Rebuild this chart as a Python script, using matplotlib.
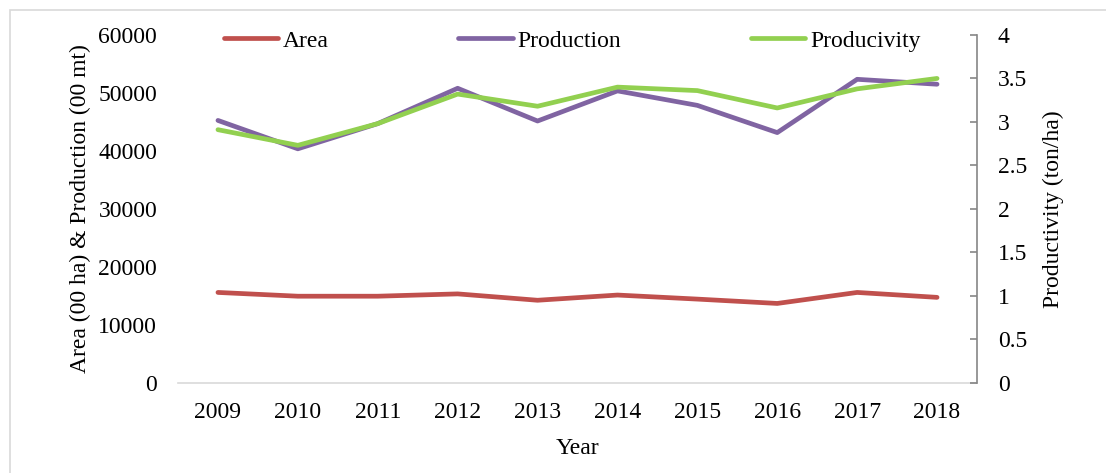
import numpy as np
import matplotlib
matplotlib.use('Agg')
import matplotlib.pyplot as plt
from matplotlib.patches import Rectangle

plt.rcParams['font.family'] = ['Liberation Serif', 'DejaVu Serif']

# data
years = ['2009', '2010', '2011', '2012', '2013', '2014', '2015', '2016', '2017', '2018']
area = [15550, 14900, 14900, 15300, 14200, 15100, 14400, 13650, 15550, 14700]
production = [45250, 40350, 44700, 50800, 45150, 50350, 47850, 43150, 52350, 51500]
productivity = [2.91, 2.73, 2.98, 3.32, 3.18, 3.40, 3.36, 3.16, 3.38, 3.50]

ind = np.arange(len(years))
fs = 17

fig = plt.figure(figsize=(11.06, 4.73), dpi=100)
W, H = 1106, 473
ax = fig.add_axes([178 / W, 1 - 382.5 / H, (977 - 178) / W, (382.5 - 35) / H])
ax2 = ax.twinx()

# light border round the chart area
fig.patches.append(Rectangle((10 / W, -0.1), 1.2, 1 - 10 / H + 0.1, transform=fig.transFigure,
                             fill=False, edgecolor='#D9D9D9', lw=1.2))

l1, = ax.plot(ind, area, color='#C0504D', lw=3.4, solid_capstyle='round')
l2, = ax.plot(ind, production, color='#8064A2', lw=3.4, solid_capstyle='round')
l3, = ax2.plot(ind, productivity, color='#92D050', lw=3.4, solid_capstyle='round')

ax.set_xlim(-0.5, len(years) - 0.5)
ax.set_ylim(0, 60000)
ax.set_yticks(np.arange(0, 60001, 10000))
ax2.set_ylim(0, 4)
ax2.set_yticks(np.arange(0, 4.01, 0.5))
ax2.set_yticklabels(['0', '0.5', '1', '1.5', '2', '2.5', '3', '3.5', '4'])
ax.set_xticks(ind)
ax.set_xticklabels(years)

for a in (ax, ax2):
    for s in ('top', 'left', 'right'):
        a.spines[s].set_visible(False)
ax2.spines['bottom'].set_visible(False)
ax.spines['bottom'].set_color('#D9D9D9')
ax.spines['bottom'].set_linewidth(1.2)
ax2.spines['right'].set_visible(True)
ax2.spines['right'].set_color('#868686')
ax2.spines['right'].set_linewidth(1.2)

ax.tick_params(axis='y', length=0, pad=15, labelsize=fs)
ax.tick_params(axis='x', length=0, pad=14, labelsize=fs)
ax2.tick_params(axis='y', direction='in', length=5, width=1.2, color='#868686', pad=15, labelsize=fs)

ax.set_xlabel('Year', fontsize=fs, labelpad=11)
ax.set_ylabel('Area (00 ha) & Production (00 mt)', fontsize=fs, labelpad=5)
ax2.set_ylabel('Productivity (ton/ha)', fontsize=fs, labelpad=11)

fig.legend((l1, l2, l3), ('Area', 'Production', 'Producivity'), loc='center',
           bbox_to_anchor=(572 / W, 1 - 41 / H), ncol=3, frameon=False, fontsize=fs,
           handlelength=2.3, handletextpad=0.2, columnspacing=5.5)

fig.savefig('out.png', dpi=100)
